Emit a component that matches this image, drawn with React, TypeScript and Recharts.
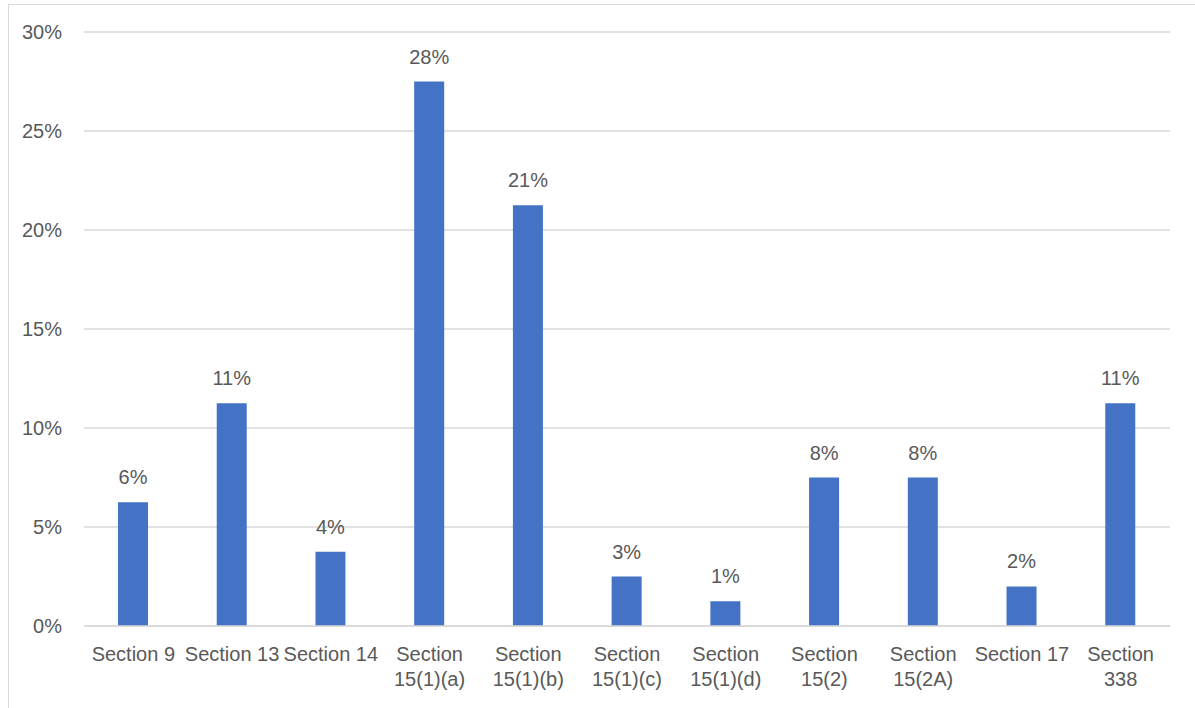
import { BarChart, Bar, XAxis, YAxis, CartesianGrid, LabelList } from "recharts";

const sections = [
  "Section 9",
  "Section 13",
  "Section 14",
  "Section 15(1)(a)",
  "Section 15(1)(b)",
  "Section 15(1)(c)",
  "Section 15(1)(d)",
  "Section 15(2)",
  "Section 15(2A)",
  "Section 17",
  "Section 338",
];
const shares = [6.25, 11.25, 3.75, 27.5, 21.25, 2.5, 1.25, 7.5, 7.5, 2, 11.25];
const yTicks = [0, 5, 10, 15, 20, 25, 30];

const data = sections.map((name, i) => ({ name, share: shares[i] }));

const FONT = "'Liberation Sans', Arial, sans-serif";
const TEXT = "#595959";

function CategoryTick({ x, y, payload }: any) {
  const label: string = payload.value;
  const sp = label.indexOf(" ");
  const lines = label.length > 10 ? [label.slice(0, sp), label.slice(sp + 1)] : [label];
  return (
    <text x={x} y={y} textAnchor="middle" fill={TEXT} fontSize={20} fontFamily={FONT}>
      {lines.map((l, i) => (
        <tspan key={i} x={x} dy={i === 0 ? 27 : 25}>
          {l}
        </tspan>
      ))}
    </text>
  );
}

export default function App() {
  return (
    <div style={{ position: "absolute", left: 0, top: 0, width: 1195, height: 708, background: "#fff", overflow: "hidden" }}>
      <div
        style={{
          position: "absolute",
          left: 8,
          top: 4,
          width: 1300,
          height: 800,
          border: "1.5px solid #d9d9d9",
        }}
      />
      <BarChart
        width={1195}
        height={708}
        data={data}
        margin={{ top: 32, right: 25, left: 0, bottom: 0 }}
        barCategoryGap={0}
        style={{ position: "absolute", left: 0, top: 0 }}
      >
        <CartesianGrid vertical={false} stroke="#d9d9d9" strokeWidth={1.5} />
        <XAxis
          dataKey="name"
          tick={<CategoryTick />}
          tickLine={false}
          axisLine={{ stroke: "#d9d9d9", strokeWidth: 1.5 }}
          interval={0}
          height={82}
        />
        <YAxis
          width={84}
          domain={[0, 30]}
          ticks={yTicks}
          tickFormatter={(v) => `${v}%`}
          axisLine={false}
          tickLine={false}
          tickMargin={16}
          tick={{ fill: TEXT, fontSize: 20, fontFamily: FONT }}
        />
        <Bar dataKey="share" fill="#4472C4" barSize={30} isAnimationActive={false}>
          <LabelList
            dataKey="share"
            position="top"
            offset={18}
            formatter={(v: any) => `${Math.round(Number(v))}%`}
            fill={TEXT}
            fontSize={20}
            fontFamily={FONT}
          />
        </Bar>
      </BarChart>
    </div>
  );
}
